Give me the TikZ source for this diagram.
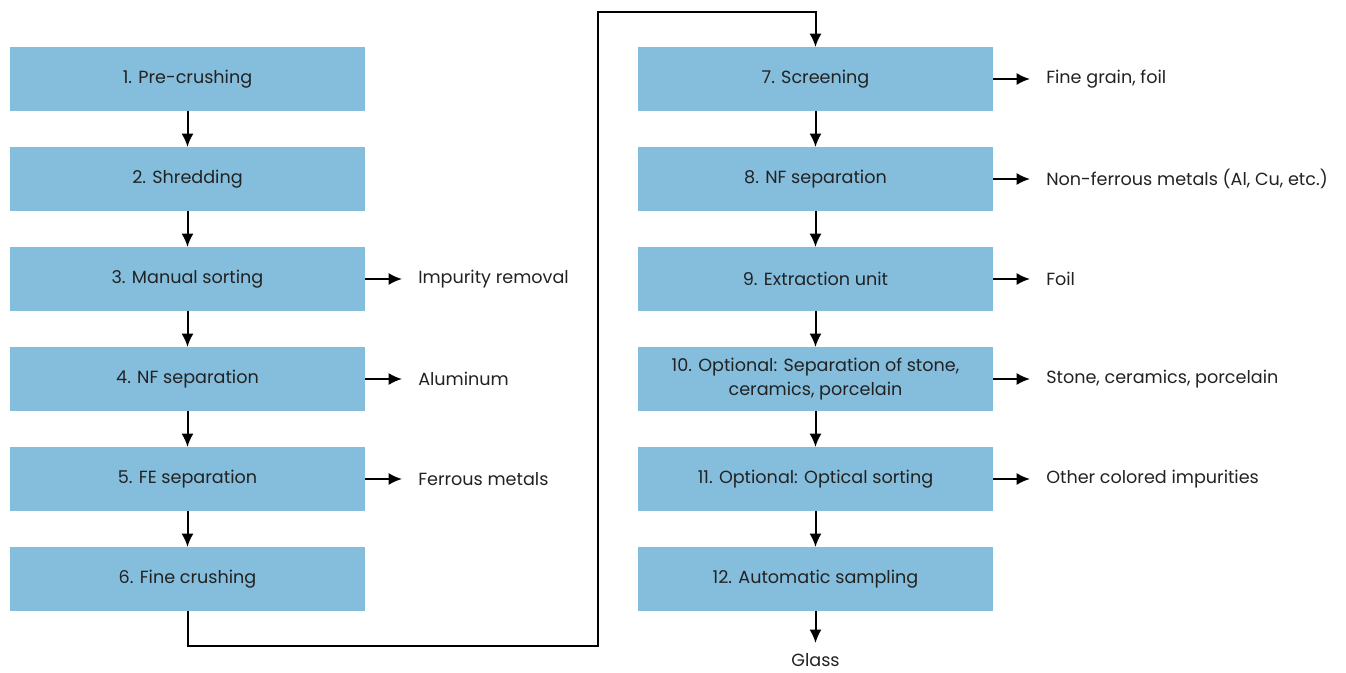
\documentclass[tikz,border=0pt]{standalone}
\usepackage{fontspec}
\setmainfont{Poppins}
\usepackage{tikz}
\usetikzlibrary{positioning, calc, arrows.meta}
\definecolor{stepblue}{HTML}{84BEDC}
\definecolor{textgray}{HTML}{222222}

\begin{document}
\begin{tikzpicture}[stage/.style={rectangle,
      fill=stepblue,
      minimum width=266.25pt,
      minimum height=48pt,
      inner sep=0pt,
      outer sep=0pt,
      align=center,
      text=textgray,
      font=\fontsize{13.2pt}{18pt}\selectfont},
    output/.style={inner sep=0pt,
      anchor=west,
      text=textgray,
      font=\fontsize{13.2pt}{18pt}\selectfont},
    node distance=27pt,
    flow/.style={-{Latex[length=10pt, width=9pt]}, line width=1.5pt}]

  \useasboundingbox (0,0) rectangle (1009.5pt,-504.75pt);

% STAGES

  \node [stage, anchor=north west] (precrush) at (7.5pt,-35.25pt) {1. Pre-crushing};
  \node [stage, below=of precrush] (shred) {2. Shredding};
  \node [stage, below=of shred] (manual) {3. Manual sorting};
  \node [stage, below=of manual] (nfsepa) {4. NF separation};
  \node [stage, below=of nfsepa] (fesep) {5. FE separation};
  \node [stage, below=of fesep] (finecrush) {6. Fine crushing};

  \node [stage, right=204.75pt of precrush] (screen) {7. Screening};
  \node [stage, below=of screen] (nfsepb) {8. NF separation};
  \node [stage, below=of nfsepb] (extract) {9. Extraction unit};
  \node [stage, below=of extract] (stone) {10. Optional: Separation of stone,\\ceramics, porcelain};
  \node [stage, below=of stone] (optical) {11. Optional: Optical sorting};
  \node [stage, below=of optical] (sampling) {12. Automatic sampling};

% OUTPUTS

  \node [output, right=39.75pt of manual] (impurity) {Impurity removal};
  \node [output, right=39.75pt of nfsepa] (alu) {Aluminum};
  \node [output, right=39.75pt of fesep] (ferrous) {Ferrous metals};

  \node [output, right=39.75pt of screen] (finegrain) {Fine grain, foil};
  \node [output, right=39.75pt of nfsepb] (nonferrous) {Non-ferrous metals (Al, Cu, etc.)};
  \node [output, right=39.75pt of extract] (foil) {Foil};
  \node [output, right=39.75pt of stone] (ceramics) {Stone, ceramics, porcelain};
  \node [output, right=39.75pt of optical] (colored) {Other colored impurities};
  \node [output, anchor=north, below=32pt of sampling] (glass) {Glass};

% FLOW

  \foreach \a/\b in {precrush/shred, shred/manual, manual/nfsepa, nfsepa/fesep, fesep/finecrush,
      screen/nfsepb, nfsepb/extract, extract/stone, stone/optical, optical/sampling}
    \draw[flow] (\a.south) -- (\b.north);

  \foreach \a/\b in {manual/impurity, nfsepa/alu, fesep/ferrous, screen/finegrain,
      nfsepb/nonferrous, extract/foil, stone/ceramics, optical/colored}
    \draw[flow, shorten >=12pt] (\a.east) -- (\b.west);

  \draw[flow, shorten >=8pt] (sampling.south) -- (glass.north);

  \draw[flow] (finecrush.south) -- ++(0,-26.25pt)
  -| ([shift={(-30pt,26.25pt)}]screen.north west)
  -| (screen.north);

\end{tikzpicture}
\end{document}
